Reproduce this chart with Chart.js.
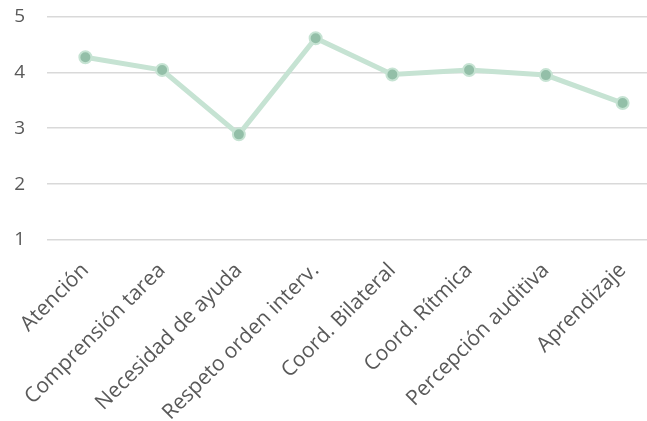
<!DOCTYPE html>
<html>
<head>
<meta charset="utf-8">
<script src="https://cdn.jsdelivr.net/npm/chart.js@4"></script>
<style>
  html, body { margin: 0; padding: 0; background: #fff; overflow: hidden; }
  #wrap { width: 661px; height: 438px; margin-top: -17px; }
</style>
</head>
<body>
<div id="wrap"><canvas id="chart"></canvas></div>
<script>
const categories = ["Atención", "Comprensión tarea", "Necesidad de ayuda", "Respeto orden interv.",
  "Coord. Bilateral", "Coord. Rítmica", "Percepción auditiva", "Aprendizaje"];
const scores = [4.27, 4.04, 2.89, 4.61, 3.96, 4.04, 3.95, 3.45];
const yTicks = [1, 2, 3, 4, 5];

new Chart(document.getElementById("chart"), {
  type: "line",
  data: {
    labels: categories,
    datasets: [{
      data: scores,
      borderColor: "#c6e3d3",
      borderWidth: 5,
      pointRadius: 6,
      pointBackgroundColor: "#93bfa8",
      pointBorderColor: "#c6e3d3",
      pointBorderWidth: 2,
      tension: 0
    }]
  },
  options: {
    responsive: true,
    maintainAspectRatio: false,
    animation: false,
    layout: { autoPadding: false, padding: { top: 0, right: 0, bottom: 0, left: 0 } },
    plugins: { legend: { display: false }, tooltip: { enabled: false } },
    scales: {
      x: {
        offset: true,
        grid: { display: false },
        border: { display: false },
        afterFit: (scale) => { scale.height = 181; },
        ticks: {
          color: "#595959",
          font: { family: "Open Sans", size: 21 },
          minRotation: 45,
          maxRotation: 45,
          padding: 10
        }
      },
      y: {
        min: yTicks[0],
        max: yTicks[yTicks.length - 1],
        afterBuildTicks: (scale) => { scale.ticks = yTicks.map((v) => ({ value: v })); },
        afterFit: (scale) => { scale.width = 47; },
        grid: { color: "#d9d9d9", lineWidth: 1.5, drawTicks: false },
        border: { display: false },
        ticks: {
          color: "#595959",
          font: { family: "Open Sans", size: 19 },
          padding: 22
        }
      }
    }
  }
});
</script>
</body>
</html>
